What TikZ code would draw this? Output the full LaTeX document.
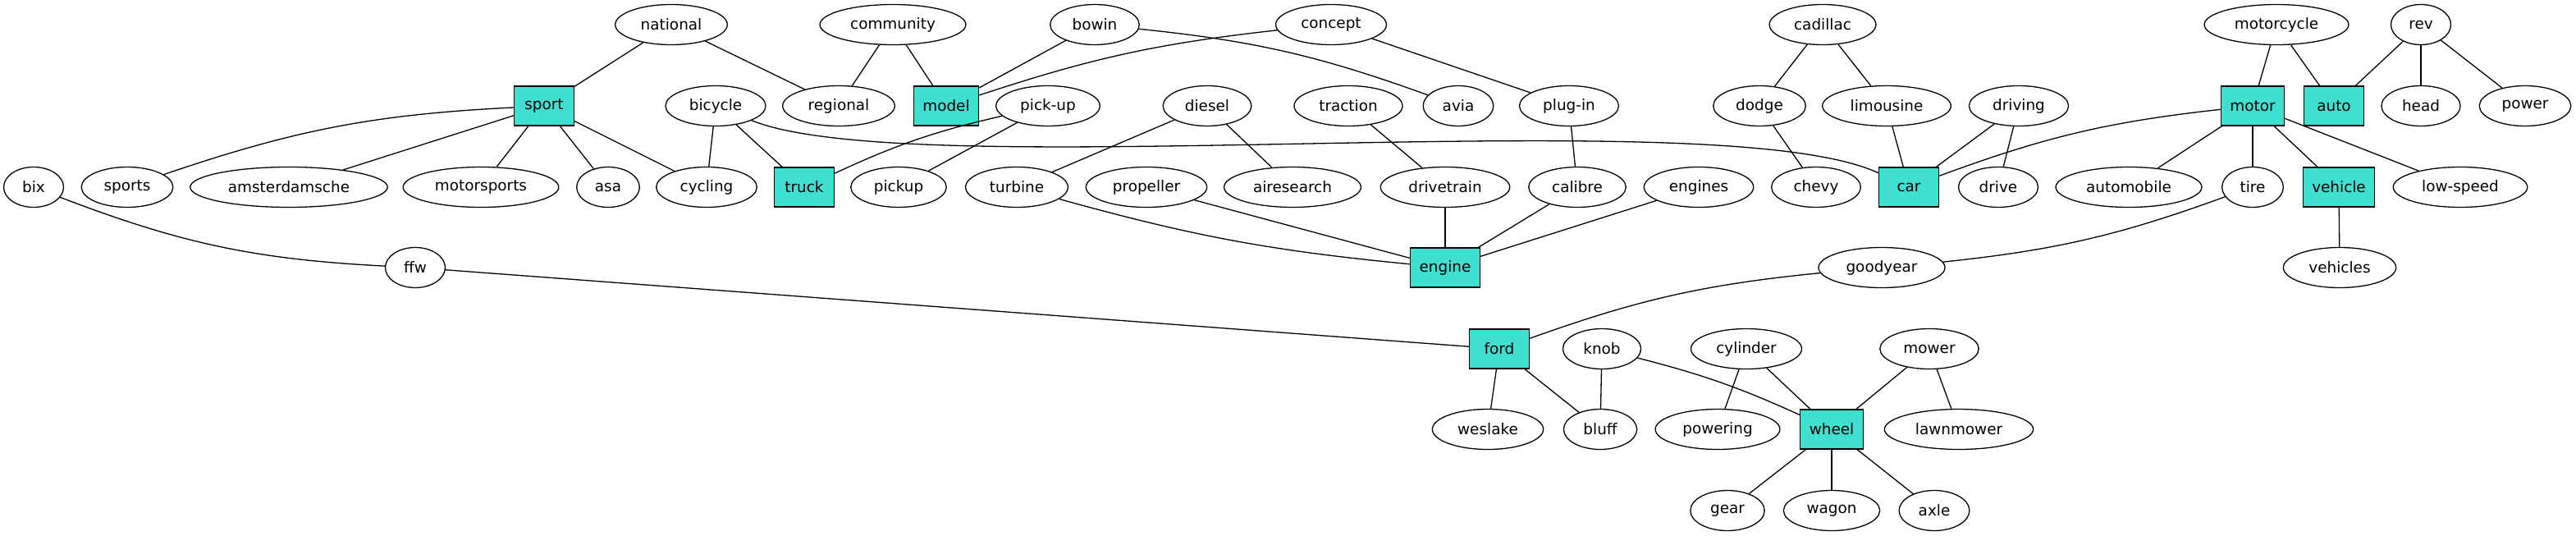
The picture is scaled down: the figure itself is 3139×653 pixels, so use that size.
\documentclass[tikz,border=0pt]{standalone}
\usepackage{fontspec}
\setmainfont{DejaVu Sans}
\usetikzlibrary{shapes.geometric}
\definecolor{keyfill}{HTML}{40E0D0}

\begin{document}
\begin{tikzpicture}[x=0.5pt, y=-0.5pt, line width=0.65pt,
  every node/.style={font=\fontsize{9.2}{11}\selectfont},
  main node/.style={draw, ellipse, inner xsep=5.5pt, minimum width=36.5pt, minimum height=24.5pt},
  key node/.style={draw, rectangle, fill=keyfill, inner xsep=5.5pt, minimum width=36.5pt, minimum height=24pt}]
  \useasboundingbox (0,0) rectangle (3139,653);

  \node[main node] (national) at (818, 30) {national};
  \node[main node] (community) at (1088, 30) {community};
  \node[main node] (bowin) at (1334, 30) {bowin};
  \node[main node] (concept) at (1622, 30) {concept};
  \node[main node] (cadillac) at (2221, 30) {cadillac};
  \node[main node] (motorcycle) at (2774, 30) {motorcycle};
  \node[main node] (rev) at (2950, 30) {rev};

  \node[key node] (sport) at (663, 129) {sport};
  \node[main node] (bicycle) at (872, 129) {bicycle};
  \node[main node] (regional) at (1022, 129) {regional};
  \node[key node] (model) at (1153, 129) {model};
  \node[main node] (pick-up) at (1277, 129) {pick-up};
  \node[main node] (diesel) at (1471, 129) {diesel};
  \node[main node] (traction) at (1643, 129) {traction};
  \node[main node] (avia) at (1777, 129) {avia};
  \node[main node] (plug-in) at (1912, 129) {plug-in};
  \node[main node] (dodge) at (2144, 129) {dodge};
  \node[main node] (limousine) at (2299, 129) {limousine};
  \node[main node] (driving) at (2460, 129) {driving};
  \node[key node] (motor) at (2745, 129) {motor};
  \node[key node] (auto) at (2844, 129) {auto};
  \node[main node] (head) at (2950, 129) {head};
  \node[main node] (power) at (3077, 129) {power};

  \node[main node] (bix) at (41, 228) {bix};
  \node[main node] (sports) at (155, 228) {sports};
  \node[main node] (amsterdamsche) at (352, 228) {amsterdamsche};
  \node[main node] (motorsports) at (586, 228) {motorsports};
  \node[main node] (asa) at (741, 228) {asa};
  \node[main node] (cycling) at (861, 228) {cycling};
  \node[key node] (truck) at (980, 228) {truck};
  \node[main node] (pickup) at (1095, 228) {pickup};
  \node[main node] (turbine) at (1239, 228) {turbine};
  \node[main node] (propeller) at (1397, 228) {propeller};
  \node[main node] (airesearch) at (1575, 228) {airesearch};
  \node[main node] (drivetrain) at (1761, 228) {drivetrain};
  \node[main node] (calibre) at (1922, 228) {calibre};
  \node[main node] (engines) at (2070, 228) {engines};
  \node[main node] (chevy) at (2213, 228) {chevy};
  \node[key node] (car) at (2326, 228) {car};
  \node[main node] (drive) at (2435, 228) {drive};
  \node[main node] (automobile) at (2594, 228) {automobile};
  \node[main node] (tire) at (2745, 228) {tire};
  \node[key node] (vehicle) at (2850, 228) {vehicle};
  \node[main node] (low-speed) at (2998, 228) {low-speed};

  \node[main node] (ffw) at (506, 326) {ffw};
  \node[key node] (engine) at (1761, 326) {engine};
  \node[main node] (goodyear) at (2293, 326) {goodyear};
  \node[main node] (vehicles) at (2851, 326) {vehicles};

  \node[key node] (ford) at (1827, 425) {ford};
  \node[main node] (knob) at (1952, 425) {knob};
  \node[main node] (cylinder) at (2128, 425) {cylinder};
  \node[main node] (mower) at (2351, 425) {mower};

  \node[main node] (weslake) at (1813, 523) {weslake};
  \node[main node] (bluff) at (1950, 523) {bluff};
  \node[main node] (powering) at (2093, 523) {powering};
  \node[key node] (wheel) at (2232, 523) {wheel};
  \node[main node] (lawnmower) at (2387, 523) {lawnmower};

  \node[main node] (gear) at (2105, 622) {gear};
  \node[main node] (wagon) at (2232, 622) {wagon};
  \node[main node] (axle) at (2357, 622) {axle};

  \draw[-] (national) to (sport);
  \draw[-] (national) to (regional);
  \draw[-] (community) to (regional);
  \draw[-] (community) to (model);
  \draw[-] (bowin) to (model);
  \draw[-] (bowin) to[bend left=7] (avia);
  \draw[-] (concept) to[bend right=6] (model);
  \draw[-] (concept) to (plug-in);

  \draw[-] (sport) to[bend right=8] (sports);
  \draw[-] (sport) to (amsterdamsche);
  \draw[-] (sport) to (motorsports);
  \draw[-] (sport) to (asa);
  \draw[-] (sport) to (cycling);

  \draw[-] (bicycle) to (cycling);
  \draw[-] (bicycle) to (truck);
  \draw[-] (bicycle) to[out=-22, in=155, looseness=0.4] (car);
  \draw[-] (pick-up) to[bend right=6] (truck);
  \draw[-] (pick-up) to (pickup);

  \draw[-] (diesel) to (turbine);
  \draw[-] (diesel) to (airesearch);
  \draw[-] (traction) to (drivetrain);
  \draw[-] (plug-in) to (calibre);

  \draw[-] (turbine) to[bend right=5] (engine);
  \draw[-] (propeller) to (engine);
  \draw[-] (drivetrain) to (engine);
  \draw[-] (calibre) to (engine);
  \draw[-] (engines) to (engine);

  \draw[-] (bix) to[bend right=9] (ffw);
  \draw[-] (ffw) to (ford);

  \draw[-] (cadillac) to (dodge);
  \draw[-] (cadillac) to (limousine);
  \draw[-] (dodge) to (chevy);
  \draw[-] (limousine) to (car);
  \draw[-] (driving) to (car);
  \draw[-] (driving) to (drive);
  \draw[-] (motor) to[bend right=7] (car);

  \draw[-] (motorcycle) to (motor);
  \draw[-] (motorcycle) to (auto);
  \draw[-] (rev) to (auto);
  \draw[-] (rev) to (head);
  \draw[-] (rev) to (power);

  \draw[-] (motor) to (automobile);
  \draw[-] (motor) to (tire);
  \draw[-] (motor) to (vehicle);
  \draw[-] (motor) to (low-speed);
  \draw[-] (vehicle) to (vehicles);

  \draw[-] (tire) to[bend left=7] (goodyear);
  \draw[-] (goodyear) to[bend right=7] (ford);

  \draw[-] (ford) to (weslake);
  \draw[-] (ford) to (bluff);
  \draw[-] (knob) to (bluff);
  \draw[-] (knob) to[bend left=5] (wheel);
  \draw[-] (cylinder) to (powering);
  \draw[-] (cylinder) to (wheel);
  \draw[-] (mower) to (wheel);
  \draw[-] (mower) to (lawnmower);

  \draw[-] (wheel) to (gear);
  \draw[-] (wheel) to (wagon);
  \draw[-] (wheel) to (axle);
\end{tikzpicture}
\end{document}
